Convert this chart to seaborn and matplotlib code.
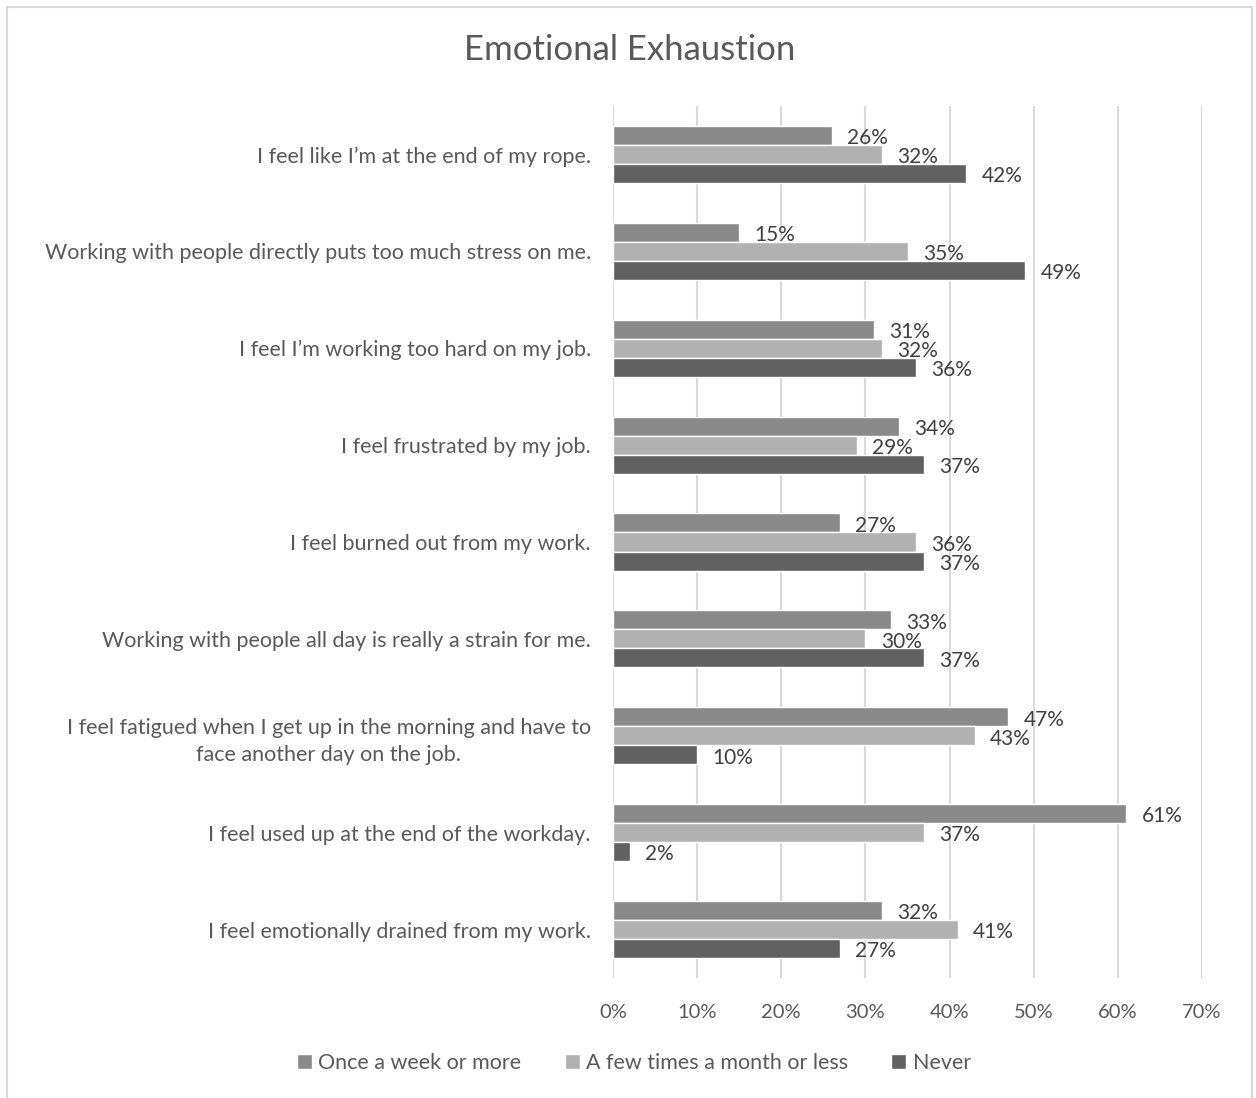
import matplotlib
matplotlib.use("Agg")
import matplotlib.pyplot as plt
import seaborn as sns
import pandas as pd
from matplotlib.patches import Rectangle

categories = [
    "I feel like I\u2019m at the end of my rope.",
    "Working with people directly puts too much stress on me.",
    "I feel I\u2019m working too hard on my job.",
    "I feel frustrated by my job.",
    "I feel burned out from my work.",
    "Working with people all day is really a strain for me.",
    "I feel fatigued when I get up in the morning and have to\nface another day on the job.",
    "I feel used up at the end of the workday.",
    "I feel emotionally drained from my work.",
]
series = ["Once a week or more", "A few times a month or less", "Never"]
once_week = [26, 15, 31, 34, 27, 33, 47, 61, 32]
few_month = [32, 35, 32, 29, 36, 30, 43, 37, 41]
never = [42, 49, 36, 37, 37, 37, 10, 2, 27]
xticks = [0, 10, 20, 30, 40, 50, 60, 70]
colors = ["#898989", "#b1b1b1", "#616161"]

rows = []
for vals, s in zip([once_week, few_month, never], series):
    for c, v in zip(categories, vals):
        rows.append({"cat": c, "series": s, "val": v})
df = pd.DataFrame(rows)

sns.set_style("white")
plt.rcParams["font.family"] = ["Lato", "DejaVu Sans"]
txt = "#595959"

fig = plt.figure(figsize=(12.56, 10.98), dpi=100)
ax = fig.add_axes([613 / 1256, 1 - 978 / 1098, (1202 - 613) / 1256, (978 - 106) / 1098])

sns.barplot(data=df, y="cat", x="val", hue="series", order=categories,
            hue_order=series, palette=colors, width=0.59, orient="h",
            ax=ax, legend=True, saturation=1, zorder=2)

for cont in ax.containers:
    texts = ax.bar_label(cont, labels=[f"{v:.0f}%" for v in cont.datavalues],
                         padding=11, fontsize=15, color="#404040")
    for t in texts:
        t.xyann = (11, -2)

ax.set_xlim(0, 70)
ax.set_xticks(xticks)
ax.set_xticklabels([f"{t}%" for t in xticks], fontsize=14.5, color=txt)
ax.tick_params(axis="x", length=0, pad=19)
ax.tick_params(axis="y", length=0, pad=16)
for lab in ax.get_yticklabels():
    lab.set_fontsize(15.5)
    lab.set_color(txt)
    lab.set_multialignment("center")
    lab.set_linespacing(1.45)
ax.set_xlabel("")
ax.set_ylabel("")
ax.grid(axis="x", color="#d9d9d9", linewidth=1.5, zorder=0)
ax.set_axisbelow(True)
for sp in ax.spines.values():
    sp.set_visible(False)

handles, labels = ax.get_legend_handles_labels()
ax.legend_.remove()
fig.legend(handles, labels, loc="center", bbox_to_anchor=(634 / 1256, 1 - 1063 / 1098),
           ncol=3, frameon=False, fontsize=15.5, handlelength=0.7, handleheight=0.7,
           handletextpad=0.3, columnspacing=2.0, labelcolor=txt)

fig.text(630 / 1256, 1 - 50 / 1098, "Emotional Exhaustion", ha="center", va="center",
         fontsize=25, color=txt)

fig.patches.append(Rectangle((7 / 1256, -0.01), (1252 - 7) / 1256, 1 - 7 / 1098 + 0.01,
                             transform=fig.transFigure, fill=False,
                             edgecolor="#d9d9d9", linewidth=1.5))

fig.savefig("out.png", dpi=100)
